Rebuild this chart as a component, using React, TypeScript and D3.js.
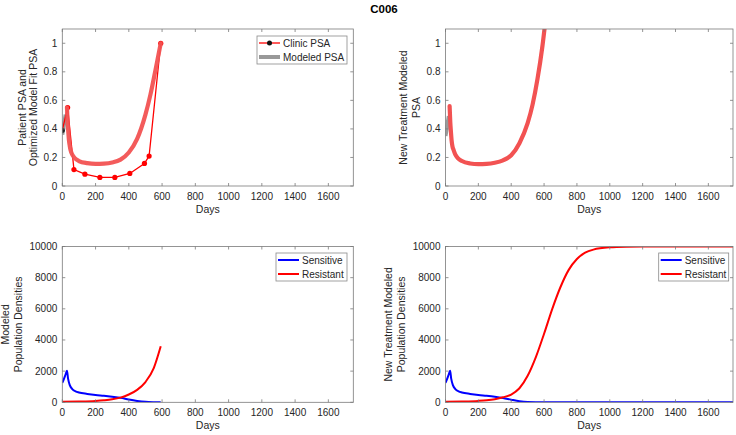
import React from 'react';
import * as d3 from 'd3';

const titleText = 'C006';
const xTicks = [0, 200, 400, 600, 800, 1000, 1200, 1400, 1600];
const psaTicks = [0, 0.2, 0.4, 0.6, 0.8, 1];
const popTicks = [0, 2000, 4000, 6000, 8000, 10000];

// Clinic PSA (top-left)
const clinicDays = [0, 32, 70, 136, 226, 316, 406, 494, 522, 592];
const clinicPSA = [0.39, 0.55, 0.115, 0.083, 0.06, 0.06, 0.088, 0.158, 0.21, 1.0];

// Pre-treatment modeled PSA (grey)
const greyDays = [0, 10, 20];
const greyPSA_TL = [0.36, 0.43, 0.5];
const greyPSA_TR = [0.35, 0.42, 0.49];

// Optimized model fit (top-left red)
const fitDays = [28, 32, 36, 40, 45, 50, 60, 75, 100, 150, 200, 250, 300, 350, 400, 450, 500, 530, 560, 592];
const fitPSA = [0.55, 0.45, 0.38, 0.32, 0.28, 0.25, 0.22, 0.195, 0.175, 0.16, 0.155, 0.157, 0.165, 0.185, 0.235, 0.33, 0.5, 0.64, 0.81, 1.0];

// New treatment modeled PSA (top-right red)
const newDays = [25, 29, 33, 37, 42, 50, 60, 75, 100, 150, 200, 250, 300, 350, 400, 450, 500, 530, 560, 590, 620];
const newPSA = [0.56, 0.45, 0.38, 0.32, 0.28, 0.25, 0.22, 0.195, 0.175, 0.158, 0.153, 0.155, 0.163, 0.18, 0.215, 0.3, 0.44, 0.57, 0.75, 0.98, 1.28];

// Bottom-left populations
const sensDaysBL = [0, 10, 20, 28, 35, 45, 60, 80, 100, 150, 200, 250, 300, 350, 400, 450, 500, 550, 592];
const sensBL = [1250, 1500, 1800, 2020, 1500, 1100, 850, 700, 630, 540, 470, 420, 360, 290, 180, 90, 30, 8, 2];
const resDaysBL = [0, 100, 200, 250, 300, 350, 400, 450, 500, 550, 592];
const resBL = [30, 50, 90, 130, 190, 300, 500, 800, 1300, 2200, 3600];

// Bottom-right populations
const sensDaysBR = [0, 10, 20, 28, 35, 45, 60, 80, 100, 150, 200, 250, 300, 350, 400, 450, 500, 550, 600, 800, 1200, 1750];
const sensBR = [1250, 1500, 1800, 2020, 1500, 1100, 850, 700, 630, 540, 470, 420, 360, 280, 170, 70, 15, 3, 0, 0, 0, 0];
const resDaysBR = [0, 100, 200, 250, 300, 350, 400, 450, 500, 550, 600, 650, 700, 750, 800, 850, 900, 1000, 1100, 1200, 1750];
const resBR = [30, 50, 90, 130, 200, 320, 500, 900, 1700, 2900, 4400, 6000, 7400, 8500, 9200, 9600, 9800, 9950, 9990, 10000, 10000];

const FONT = "'Liberation Sans', Arial, Helvetica, sans-serif";
const TXT = '#262626';
const AX = '#7a7a7a';

type Rect = { x0: number; x1: number; y0: number; y1: number };

function zip(xs: number[], ys: number[]): [number, number][] {
  return xs.map((x, i) => [x, ys[i]]);
}

function Panel(props: {
  id: string;
  r: Rect;
  yMax: number;
  yTicks: number[];
  ylabel: string[];
  ylabelX: number[];
  children: (x: d3.ScaleLinear<number, number>, y: d3.ScaleLinear<number, number>) => React.ReactNode;
}) {
  const { r } = props;
  const x = d3.scaleLinear().domain([0, 1750]).range([r.x0, r.x1]);
  const y = d3.scaleLinear().domain([0, props.yMax]).range([r.y1, r.y0]);
  const tl = 3;
  const cy = (r.y0 + r.y1) / 2;
  return (
    <g>
      <defs>
        <clipPath id={props.id}>
          <rect x={r.x0} y={r.y0} width={r.x1 - r.x0} height={r.y1 - r.y0} />
        </clipPath>
      </defs>
      <rect x={r.x0} y={r.y0} width={r.x1 - r.x0} height={r.y1 - r.y0} fill="#fff" />
      <g clipPath={`url(#${props.id})`}>{props.children(x, y)}</g>
      <rect x={r.x0} y={r.y0} width={r.x1 - r.x0} height={r.y1 - r.y0} fill="none" stroke={AX} strokeWidth={0.8} />
      {xTicks.map((t) => (
        <g key={'x' + t}>
          <line x1={x(t)} x2={x(t)} y1={r.y1} y2={r.y1 - tl} stroke={AX} strokeWidth={0.8} />
          <line x1={x(t)} x2={x(t)} y1={r.y0} y2={r.y0 + tl} stroke={AX} strokeWidth={0.8} />
          <text x={x(t)} y={r.y1 + 14} textAnchor="middle" fontSize={10} fill={TXT} fontFamily={FONT}>
            {t}
          </text>
        </g>
      ))}
      {props.yTicks.map((t) => (
        <g key={'y' + t}>
          <line x1={r.x0} x2={r.x0 + tl} y1={y(t)} y2={y(t)} stroke={AX} strokeWidth={0.8} />
          <line x1={r.x1} x2={r.x1 - tl} y1={y(t)} y2={y(t)} stroke={AX} strokeWidth={0.8} />
          <text x={r.x0 - 5} y={y(t) + 3.5} textAnchor="end" fontSize={10} fill={TXT} fontFamily={FONT}>
            {t}
          </text>
        </g>
      ))}
      <text x={(r.x0 + r.x1) / 2} y={r.y1 + 27} textAnchor="middle" fontSize={10.5} fill={TXT} fontFamily={FONT}>
        Days
      </text>
      {props.ylabel.map((s, i) => (
        <text
          key={s}
          transform={`translate(${props.ylabelX[i]},${cy}) rotate(-90)`}
          textAnchor="middle"
          fontSize={10.5}
          fill={TXT}
          fontFamily={FONT}
        >
          {s}
        </text>
      ))}
    </g>
  );
}

function Legend(props: { x0: number; x1: number; y0: number; y1: number; items: { label: string; color: string; width: number; marker?: boolean }[] }) {
  const { x0, x1, y0, y1, items } = props;
  const rowH = (y1 - y0) / items.length;
  return (
    <g>
      <rect x={x0} y={y0} width={x1 - x0} height={y1 - y0} fill="#fff" stroke="#8a8a8a" strokeWidth={0.8} />
      {items.map((it, i) => {
        const cy = y0 + rowH * (i + 0.5);
        return (
          <g key={it.label}>
            <line x1={x0 + 2} x2={x0 + 23} y1={cy} y2={cy} stroke={it.color} strokeWidth={it.width} />
            {it.marker && <circle cx={x0 + 12.5} cy={cy} r={2.5} fill="#111" />}
            <text x={x0 + 26} y={cy + 3.5} fontSize={10} fill={TXT} fontFamily={FONT}>
              {it.label}
            </text>
          </g>
        );
      })}
    </g>
  );
}

export default function App() {
  const TL: Rect = { x0: 62.3, x1: 353.3, y0: 29, y1: 186 };
  const TR: Rect = { x0: 445.5, x1: 733, y0: 29, y1: 186 };
  const BL: Rect = { x0: 62.3, x1: 353.3, y0: 246.5, y1: 402.3 };
  const BR: Rect = { x0: 445.5, x1: 733, y0: 246.5, y1: 402.3 };
  const MODEL_RED = '#f25252';
  const GREY = '#999999';

  const lineGen = (x: any, y: any, curve: any = d3.curveMonotoneX) =>
    d3
      .line<[number, number]>()
      .x((d) => x(d[0]))
      .y((d) => y(d[1]))
      .curve(curve);

  return (
    <svg width={736} height={435} style={{ position: 'absolute', left: 0, top: 0, background: '#fff' }} fontFamily={FONT}>
      <rect x={0} y={0} width={736} height={435} fill="#fff" />
      <text x={384} y={13} textAnchor="middle" fontSize={11.5} fontWeight="bold" fill="#000" fontFamily={FONT}>
        {titleText}
      </text>

      <Panel id="cTL" r={TL} yMax={1.1} yTicks={psaTicks} ylabel={['Patient PSA and', 'Optimized Model Fit PSA']} ylabelX={[25.5, 36.5]}>
        {(x, y) => (
          <g>
            <path d={lineGen(x, y, d3.curveLinear)(zip(greyDays, greyPSA_TL)) || ''} fill="none" stroke={GREY} strokeWidth={4} />
            <path d={lineGen(x, y, d3.curveLinear)(zip(clinicDays, clinicPSA)) || ''} fill="none" stroke="#ff0000" strokeWidth={1.3} />
            {clinicDays.map((d, i) => (
              <circle key={d} cx={x(d)} cy={y(clinicPSA[i])} r={2.6} fill={i === 0 ? '#222' : '#ff0000'} />
            ))}
            <path d={lineGen(x, y)(zip(fitDays, fitPSA)) || ''} fill="none" stroke={MODEL_RED} strokeWidth={4.2} strokeLinecap="round" opacity={0.95} />
          </g>
        )}
      </Panel>
      <Legend
        x0={257}
        x1={347}
        y0={36}
        y1={64}
        items={[
          { label: 'Clinic PSA', color: '#ff0000', width: 1.3, marker: true },
          { label: 'Modeled PSA', color: GREY, width: 4 },
        ]}
      />

      <Panel id="cTR" r={TR} yMax={1.1} yTicks={psaTicks} ylabel={['New Treatment Modeled', 'PSA']} ylabelX={[407, 420]}>
        {(x, y) => (
          <g>
            <path d={lineGen(x, y, d3.curveLinear)(zip(greyDays, greyPSA_TR)) || ''} fill="none" stroke={GREY} strokeWidth={4} />
            <path d={lineGen(x, y)(zip(newDays, newPSA)) || ''} fill="none" stroke={MODEL_RED} strokeWidth={4.2} strokeLinecap="round" />
          </g>
        )}
      </Panel>

      <Panel id="cBL" r={BL} yMax={10000} yTicks={popTicks} ylabel={['Modeled', 'Population Densities']} ylabelX={[9, 22]}>
        {(x, y) => (
          <g>
            <path d={lineGen(x, y)(zip(sensDaysBL, sensBL)) || ''} fill="none" stroke="#0000ff" strokeWidth={2} />
            <path d={lineGen(x, y)(zip(resDaysBL, resBL)) || ''} fill="none" stroke="#ff0000" strokeWidth={2} />
          </g>
        )}
      </Panel>
      <Legend
        x0={276}
        x1={347}
        y0={253}
        y1={281}
        items={[
          { label: 'Sensitive', color: '#0000ff', width: 2 },
          { label: 'Resistant', color: '#ff0000', width: 2 },
        ]}
      />

      <Panel id="cBR" r={BR} yMax={10000} yTicks={popTicks} ylabel={['New Treatment Modeled', 'Population Densities']} ylabelX={[392, 405]}>
        {(x, y) => (
          <g>
            <path d={lineGen(x, y)(zip(sensDaysBR, sensBR)) || ''} fill="none" stroke="#0000ff" strokeWidth={2} />
            <path d={lineGen(x, y)(zip(resDaysBR, resBR)) || ''} fill="none" stroke="#ff0000" strokeWidth={2} />
          </g>
        )}
      </Panel>
      <Legend
        x0={658.7}
        x1={728.7}
        y0={253}
        y1={281}
        items={[
          { label: 'Sensitive', color: '#0000ff', width: 2 },
          { label: 'Resistant', color: '#ff0000', width: 2 },
        ]}
      />
    </svg>
  );
}
